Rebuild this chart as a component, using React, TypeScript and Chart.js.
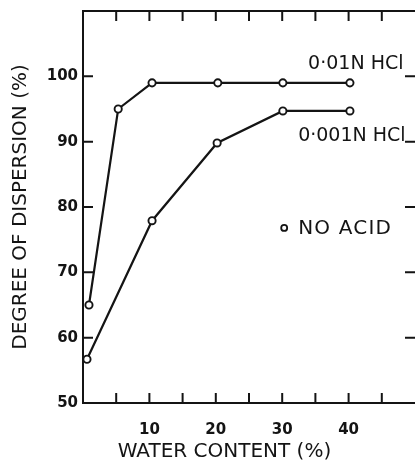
import React, { useEffect, useRef } from "react";
import { Chart, registerables } from "chart.js";

Chart.register(...registerables);

// Data
const waterContent01N = [0.9, 5.3, 10.4, 20.3, 30.1, 40.2];
const dispersion01N = [65, 95, 99, 99, 99, 99];
const waterContent001N = [0.6, 10.4, 20.2, 30.1, 40.2];
const dispersion001N = [56.7, 77.9, 89.8, 94.7, 94.7];

const seriesNames = ["0·01N HCl", "0·001N HCl"];
const noAcidLabel = "NO ACID";
const xTitle = "WATER CONTENT (%)";
const yTitle = "DEGREE OF DISPERSION (%)";

const xTickLabels = [10, 20, 30, 40];
const xTickMarks = [5, 10, 15, 20, 25, 30, 35, 40, 45];
const yTickLabels = [50, 60, 70, 80, 90, 100];
const yLeftTickMarks = [60, 70, 80, 90, 100];
const yRightTickMarks = [60, 70, 80, 90, 100];

// Annotation anchors (data units)
const label01NAt = { x: 33.9, y: 101.9 };
const label001NAt = { x: 32.4, y: 90.9 };
const noAcidMarkerAt = { x: 30.3, y: 76.8 };
const noAcidTextAt = { x: 32.4, y: 76.7 };
const xTitleCenterAt = 21.3; // data x under which the axis title is centred

const FONT = "'DejaVu Sans', sans-serif";
const INK = "#141414";

const framePlugin = {
  id: "frameAndLabels",
  afterDraw(chart: any) {
    const { ctx, chartArea, scales, height } = chart;
    const { left, right, top, bottom } = chartArea;
    const x = scales.x;
    const y = scales.y;
    ctx.save();
    ctx.strokeStyle = INK;
    ctx.lineWidth = 2;
    ctx.lineCap = "butt";
    ctx.beginPath();
    ctx.moveTo(right, top);
    ctx.lineTo(left, top);
    ctx.lineTo(left, bottom);
    ctx.lineTo(right, bottom);
    ctx.stroke();

    const len = 10;
    ctx.beginPath();
    xTickMarks.forEach((v) => {
      const px = x.getPixelForValue(v);
      ctx.moveTo(px, bottom);
      ctx.lineTo(px, bottom - len);
      ctx.moveTo(px, top);
      ctx.lineTo(px, top + len);
    });
    yLeftTickMarks.forEach((v) => {
      const py = y.getPixelForValue(v);
      ctx.moveTo(left, py);
      ctx.lineTo(left + len, py);
    });
    yRightTickMarks.forEach((v) => {
      const py = y.getPixelForValue(v);
      ctx.moveTo(right, py);
      ctx.lineTo(right - len, py);
    });
    ctx.stroke();

    ctx.fillStyle = INK;
    ctx.textBaseline = "middle";
    ctx.textAlign = "left";
    ctx.font = `19px ${FONT}`;
    ctx.fillText(seriesNames[0], x.getPixelForValue(label01NAt.x), y.getPixelForValue(label01NAt.y));
    ctx.fillText(seriesNames[1], x.getPixelForValue(label001NAt.x), y.getPixelForValue(label001NAt.y));

    ctx.font = `20px ${FONT}`;
    (ctx as any).letterSpacing = "1.2px";
    ctx.fillText(noAcidLabel, x.getPixelForValue(noAcidTextAt.x), y.getPixelForValue(noAcidTextAt.y));
    (ctx as any).letterSpacing = "0px";

    ctx.textAlign = "center";
    ctx.fillText(xTitle, x.getPixelForValue(xTitleCenterAt), height - 11);

    ctx.beginPath();
    ctx.lineWidth = 1.8;
    ctx.arc(x.getPixelForValue(noAcidMarkerAt.x), y.getPixelForValue(noAcidMarkerAt.y), 3, 0, Math.PI * 2);
    ctx.stroke();
    ctx.restore();
  },
};

export default function App() {
  const ref = useRef<HTMLCanvasElement | null>(null);

  useEffect(() => {
    if (!ref.current) return;
    const pointStyle = {
      borderColor: INK,
      backgroundColor: "#ffffff",
      borderWidth: 2.2,
      pointRadius: 3.6,
      pointBorderWidth: 1.9,
      pointBackgroundColor: "#ffffff",
      pointBorderColor: INK,
      tension: 0,
      fill: false,
    };
    const chart = new Chart(ref.current, {
      type: "line",
      data: {
        datasets: [
          {
            label: seriesNames[0],
            data: waterContent01N.map((v, i) => ({ x: v, y: dispersion01N[i] })),
            ...pointStyle,
          },
          {
            label: seriesNames[1],
            data: waterContent001N.map((v, i) => ({ x: v, y: dispersion001N[i] })),
            ...pointStyle,
          },
        ],
      },
      options: {
        responsive: false,
        animation: false,
        layout: { autoPadding: false, padding: { top: 11, right: 0, left: 0, bottom: 0 } },
        plugins: { legend: { display: false }, tooltip: { enabled: false } },
        scales: {
          x: {
            type: "linear",
            min: 0,
            max: 50,
            afterFit: (s: any) => {
              s.height = 60;
              s.paddingLeft = 0;
              s.paddingRight = 0;
            },
            grid: { display: false, drawTicks: false },
            border: { display: false },
            ticks: {
              stepSize: 5,
              autoSkip: false,
              maxRotation: 0,
              padding: 18,
              color: INK,
              font: { family: FONT, size: 15, weight: "bold" },
              callback: (v: any) => (xTickLabels.includes(Number(v)) ? String(v) : ""),
            },
            title: { display: false },
          },
          y: {
            type: "linear",
            min: 50,
            max: 110,
            afterFit: (s: any) => {
              s.width = 83;
              s.paddingTop = 0;
              s.paddingBottom = 0;
            },
            grid: { display: false, drawTicks: false },
            border: { display: false },
            ticks: {
              stepSize: 10,
              autoSkip: false,
              padding: 5,
              color: INK,
              font: { family: FONT, size: 15, weight: "bold" },
              callback: (v: any) => (yTickLabels.includes(Number(v)) ? String(v) : ""),
            },
            title: {
              display: true,
              text: yTitle,
              color: INK,
              font: { family: FONT, size: 20 },
              padding: { top: 9, bottom: 0 },
            },
          },
        },
      },
      plugins: [framePlugin],
    });
    return () => chart.destroy();
  }, []);

  return (
    <div style={{ position: "absolute", left: 0, top: 0, width: 415, height: 463, background: "#fff" }}>
      <canvas ref={ref} width={415} height={463} style={{ display: "block" }} />
    </div>
  );
}
